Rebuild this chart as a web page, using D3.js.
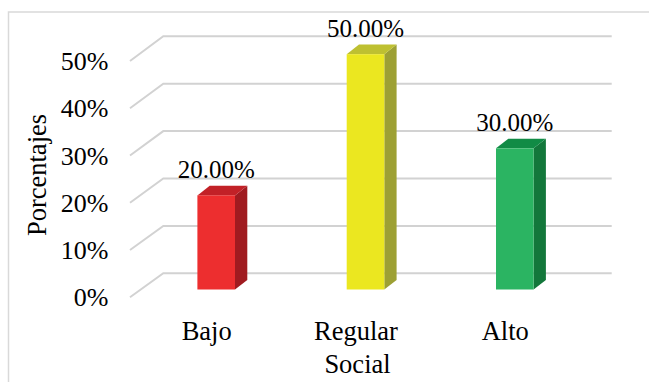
<!DOCTYPE html>
<html>
<head>
<meta charset="utf-8">
<script src="https://cdn.jsdelivr.net/npm/d3@7/dist/d3.min.js"></script>
<style>
  html, body { margin: 0; padding: 0; background: #ffffff; }
  svg { display: block; }
  text { font-family: "Liberation Serif", "DejaVu Serif", serif; fill: #000; }
</style>
</head>
<body>
<svg id="chart" width="649" height="382"></svg>
<script>
// Chart data
const categories = ["Bajo", "Regular", "Alto"];
const values = [20, 50, 30];               // percent
const valueLabels = ["20.00%", "50.00%", "30.00%"];
const tickValues = [0, 10, 20, 30, 40, 50];
const tickLabels = ["0%", "10%", "20%", "30%", "40%", "50%"];
const xTitle = "Social";
const yTitle = "Porcentajes";

// Face colours per bar: front, side, top
const frontColors = ["#ED2E2F", "#EBE720", "#2BB462"];
const sideColors  = ["#A01B20", "#9DA034", "#13773B"];
const topColors   = ["#C22127", "#BEC031", "#118B45"];

const svg = d3.select("#chart");

// Outer frame
svg.append("rect")
  .attr("x", 8.5).attr("y", 12)
  .attr("width", 700).attr("height", 420)
  .attr("fill", "none")
  .attr("stroke", "#d9d9d9")
  .attr("stroke-width", 1.5);

// 3D scales: back wall, front edge of floor, and bar front faces
const yBack  = d3.scaleLinear().domain([0, 50]).range([273.3, 36.3]);
const yFront = d3.scaleLinear().domain([0, 50]).range([297.3, 61]);
const yBar   = d3.scaleLinear().domain([0, 50]).range([289.5, 54.2]);
const x = d3.scalePoint().domain(categories).range([216.2, 514.8]);

const wallLeft = 163.3, wallRight = 611.7, frontLeft = 130;
const barW = 37.6, depthX = 12.3, depthY = 9.6;
const labelShift = -9.5;

// Gridlines: diagonal on the side wall, then horizontal on the back wall
const grid = svg.append("g").attr("fill", "none")
  .attr("stroke", "#d2d2d2").attr("stroke-width", 2);
grid.selectAll("path").data(tickValues).join("path")
  .attr("d", v => `M${frontLeft},${yFront(v)} L${wallLeft},${yBack(v)} L${wallRight},${yBack(v)}`);

// Y tick labels
svg.append("g").selectAll("text").data(tickValues).join("text")
  .attr("x", 108.5)
  .attr("y", v => yFront(v) + 9)
  .attr("text-anchor", "end")
  .attr("font-size", 26)
  .text((v, i) => tickLabels[i]);

// Y axis title
svg.append("text")
  .attr("transform", "translate(46,175) rotate(-90)")
  .attr("text-anchor", "middle")
  .attr("font-size", 26.5)
  .text(yTitle);

// Bars (front, side, top faces)
const bars = svg.append("g").selectAll("g").data(values).join("g");
bars.append("path")
  .attr("fill", (d, i) => sideColors[i])
  .attr("d", (d, i) => {
    const x1 = x(categories[i]) + barW / 2, yt = yBar(d), yb = yBar(0);
    return `M${x1},${yt} L${x1 + depthX},${yt - depthY} L${x1 + depthX},${yb - depthY} L${x1},${yb} Z`;
  });
bars.append("path")
  .attr("fill", (d, i) => topColors[i])
  .attr("d", (d, i) => {
    const x0 = x(categories[i]) - barW / 2, x1 = x0 + barW, yt = yBar(d);
    return `M${x0},${yt} L${x0 + depthX},${yt - depthY} L${x1 + depthX},${yt - depthY} L${x1},${yt} Z`;
  });
bars.append("rect")
  .attr("fill", (d, i) => frontColors[i])
  .attr("x", (d, i) => x(categories[i]) - barW / 2)
  .attr("y", d => yBar(d))
  .attr("width", barW)
  .attr("height", d => yBar(0) - yBar(d));

// Value labels
svg.append("g").selectAll("text").data(values).join("text")
  .attr("x", (d, i) => x(categories[i]))
  .attr("y", d => yBar(d) - depthY - 7.8)
  .attr("text-anchor", "middle")
  .attr("font-size", 25)
  .text((d, i) => valueLabels[i]);

// Category labels
svg.append("g").selectAll("text").data(categories).join("text")
  .attr("x", c => x(c) + labelShift)
  .attr("y", 339.5)
  .attr("text-anchor", "middle")
  .attr("font-size", 26.5)
  .text(c => c);

// X axis title
svg.append("text")
  .attr("x", 357.5)
  .attr("y", 372.8)
  .attr("text-anchor", "middle")
  .attr("font-size", 26.5)
  .text(xTitle);
</script>
</body>
</html>
